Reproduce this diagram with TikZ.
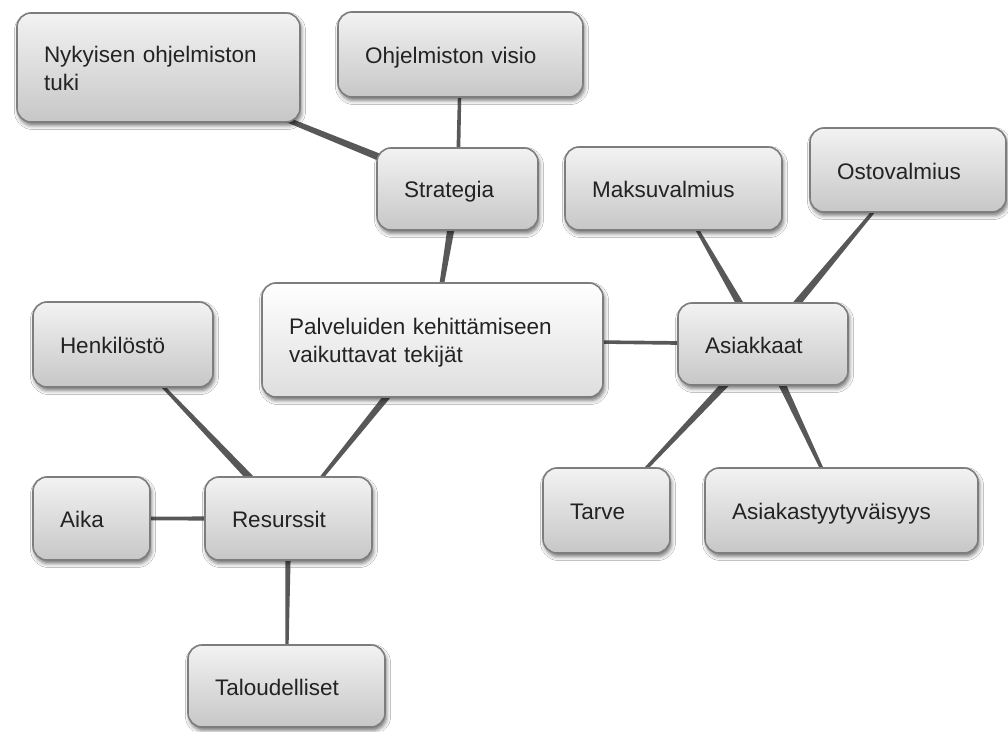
\documentclass[tikz,border=0pt]{standalone}
\usepackage{fontspec}
\setmainfont{Liberation Sans}
\usetikzlibrary{calc,shadows.blur}
\definecolor{bordergray}{RGB}{125,125,125}
\definecolor{conngray}{RGB}{88,88,88}
\definecolor{txtgray}{RGB}{35,35,35}
\pgfdeclarelayer{bg}
\pgfsetlayers{bg,main}
\tikzset{
  boxbase/.style={rounded corners=14pt, draw=bordergray, line width=1.6pt,
    inner xsep=27pt, inner ysep=0pt, align=left, text=txtgray,
    font=\fontsize{22.5}{28.5}\selectfont,
    blur shadow={shadow xshift=1.5pt, shadow yshift=-3.5pt, shadow blur radius=4pt, shadow opacity=55}},
  leaf/.style={boxbase, top color=white!95!black, bottom color=white!78!black},
  core/.style={boxbase, top color=white, bottom color=white!87!black},
  conn/.style={fill=conngray},
}
\newcommand\mystrut{\rule[-4pt]{0pt}{26pt}}
\newcommand\mybox[7]{%
  \pgfmathsetmacro\myW{#5-#3}%
  \pgfmathsetmacro\myH{#6-#4}%
  \pgfmathsetmacro\myTW{#5-#3-54}%
  \pgfmathsetmacro\myCX{(#3+#5)/2}%
  \pgfmathsetmacro\myCY{(#4+#6)/2}%
  \node[#2, minimum width=\myW pt, minimum height=\myH pt, text width=\myTW pt] (#1) at (\myCX,\myCY) {\mystrut #7\mystrut};}
\newcommand\taper[4]{%
  \fill[conn] ($(#1)!#3!90:(#2)$) -- ($(#2)!#4!-90:(#1)$) -- ($(#2)!#4!90:(#1)$) -- ($(#1)!#3!-90:(#2)$) -- cycle;}
\begin{document}
\begin{tikzpicture}[x=1pt,y=-1pt]
\useasboundingbox (0,0) rectangle (1008,731);
\mybox{nyk}{leaf}{17}{13}{300}{122}{Nykyisen ohjelmiston\\tuki}
\mybox{vis}{leaf}{338}{12}{583}{97}{Ohjelmiston visio}
\mybox{str}{leaf}{377}{148}{538}{230}{Strategia}
\mybox{mak}{leaf}{565}{147}{782}{230}{Maksuvalmius}
\mybox{ost}{leaf}{810}{128}{1006}{212}{Ostovalmius}
\mybox{pal}{core}{262}{283}{603}{397}{Palveluiden kehittämiseen\\vaikuttavat tekijät}
\mybox{hen}{leaf}{33}{302}{213}{387}{Henkilöstö}
\mybox{asi}{leaf}{678}{303}{848}{385}{Asiakkaat}
\mybox{aik}{leaf}{33}{477}{150}{560}{Aika}
\mybox{res}{leaf}{205}{477}{372}{560}{Resurssit}
\mybox{tar}{leaf}{543}{468}{670}{553}{Tarve}
\mybox{ast}{leaf}{705}{468}{978}{553}{Asiakastyytyväisyys}
\mybox{tal}{leaf}{188}{645}{385}{727}{Taloudelliset}
\begin{pgfonlayer}{bg}
\fill[white] (0,0) rectangle (1008,731);
\taper{str}{nyk}{4.5pt}{1pt}
\taper{str}{vis}{2pt}{1.6pt}
\taper{str}{pal}{4.5pt}{1pt}
\taper{asi}{pal}{2pt}{1.5pt}
\taper{asi}{mak}{4.5pt}{0.8pt}
\taper{asi}{ost}{4.5pt}{0.8pt}
\taper{asi}{tar}{4.5pt}{0.8pt}
\taper{asi}{ast}{4.5pt}{0.8pt}
\taper{pal}{res}{4.5pt}{1pt}
\taper{res}{hen}{4.5pt}{0.8pt}
\taper{res}{aik}{2.5pt}{1.5pt}
\taper{res}{tal}{3pt}{1.2pt}
\end{pgfonlayer}
\end{tikzpicture}
\end{document}
